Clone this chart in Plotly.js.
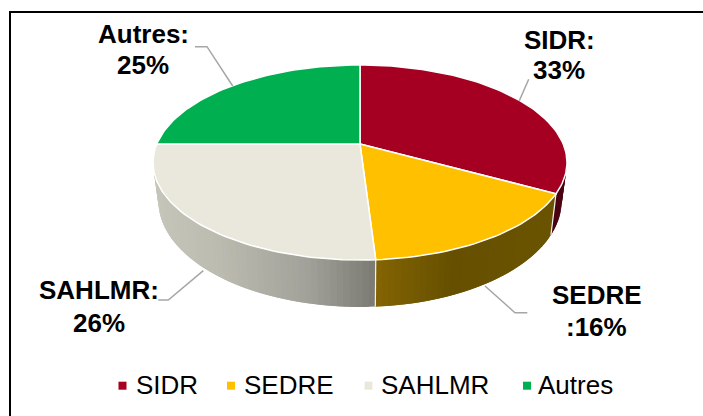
<!DOCTYPE html>
<html><head><meta charset="utf-8">
<script src="https://cdn.plot.ly/plotly-3.0.1.min.js"></script>
<style>html,body{margin:0;padding:0;background:#fff}#c{width:703px;height:416px}</style>
</head><body><div id="c"></div>
<script>
// Data
var categories = ['SIDR','SEDRE','SAHLMR','Autres'];
var values = [33,16,26,25];
var colors = ['#A50021','#FFC000','#EAE8DC','#00B050'];
var labelFirst = ['SIDR:','SEDRE','SAHLMR:','Autres:'];
var labelSecond = ['33%',':16%','26%','25%'];

// Styles / layout helpers
var FONT = '"Liberation Sans", Arial, sans-serif';
var sideStops = [
  [[0,'#4A0012'],[1,'#4A0012']],
  [[0,'#846403'],[0.42,'#665000'],[1,'#6A5300']],
  [[0,'#C6C5BA'],[0.27,'#BDBCB1'],[0.7,'#A2A199'],[1,'#7A7A72']],
  [[0,'#000000'],[1,'#000000']]
];
var labelPos = [[559,40,70],[596.5,295,327],[99,290.3,322.5],[143,33.5,65]];
var leaders = [
  [[528.7,79.3],[519.3,100.7]],
  [[485,286],[515,312.7],[527.3,312.7]],
  [[203.3,270.7],[168.3,300],[158.3,300]],
  [[195,46.7],[207,46.7],[232.7,86]]
];
var legendMark = [122.5,231,368.5,527];
var legendText = [134.3,242.3,379,535.7];

// Perspective projection of the pie's top and bottom discs
var C = 0.1897;
function proj(deg, D, A, B){
  var r = deg*Math.PI/180, u = Math.sin(r), v = Math.cos(r), w = 1 + C*v;
  return [360 + D*u/w, (A + B*v)/w];
}
function top_(deg){ return proj(deg,203.2,144,-66.67); }
function bot_(deg){ return proj(deg,198,180.7,-68); }

function hex(c){ return [1,3,5].map(function(i){return parseInt(c.substr(i,2),16);}); }
function stopColor(stops,f){
  for(var i=1;i<stops.length;i++){
    if(f<=stops[i][0]){
      var a=stops[i-1],b=stops[i],t=(f-a[0])/((b[0]-a[0])||1);
      var p=hex(a[1]),q=hex(b[1]);
      return 'rgb('+p.map(function(x,k){return Math.round(x+(q[k]-x)*t);}).join(',')+')';
    }
  }
  return stops[stops.length-1][1];
}

var total = values.reduce(function(a,b){return a+b;},0);
var traces = [], starts = [], acc = 0;
values.forEach(function(v){ starts.push(acc/total*360); acc += v; });
starts.push(360);

// Sides: painted strip by strip, each overlapping the next so no seams show
var VIS_A = 98, VIS_B = 262;
categories.forEach(function(name,i){
  var a0 = Math.max(starts[i],VIS_A), a1 = Math.min(starts[i+1],VIS_B);
  if(a1 <= a0) return;
  var n = Math.max(4,Math.round((a1-a0)/1.5));
  var xA = top_(a0)[0], xB = top_(a1)[0], xMin = Math.min(xA,xB), xMax = Math.max(xA,xB);
  for(var k=0;k<n;k++){
    var d0 = a0+(a1-a0)*k/n, d1 = a0+(a1-a0)*Math.min(n,k+2)/n, dm = a0+(a1-a0)*(k+1)/n;
    var p0=top_(d0),pm=top_(dm),p1=top_(d1),q1=bot_(d1),qm=bot_(dm),q0=bot_(d0);
    var f = ((p0[0]+pm[0])/2-xMin)/((xMax-xMin)||1);
    var col = stopColor(sideStops[i],f);
    traces.push({type:'scatter',mode:'lines',x:[p0[0],pm[0],p1[0],q1[0],qm[0],q0[0],p0[0]],y:[p0[1],pm[1],p1[1],q1[1],qm[1],q0[1],p0[1]],
      fill:'toself',fillcolor:col,line:{width:0},hoverinfo:'skip',showlegend:false});
  }
});
// Seams on the side wall between slices
[starts[1],starts[2]].forEach(function(a){
  var p=top_(a),q=bot_(a);
  traces.push({type:'scatter',mode:'lines',x:[p[0],q[0]],y:[p[1],q[1]],line:{color:'#F2F2EC',width:1.2},hoverinfo:'skip',showlegend:false});
});
// Top faces
categories.forEach(function(name,i){
  var xs=[360],ys=[144],n=Math.max(8,Math.round((starts[i+1]-starts[i])/1.5));
  for(var k=0;k<=n;k++){
    var p=top_(starts[i]+(starts[i+1]-starts[i])*k/n);
    xs.push(p[0]);ys.push(p[1]);
  }
  xs.push(360);ys.push(144);
  traces.push({type:'scatter',mode:'lines',x:xs,y:ys,fill:'toself',fillcolor:colors[i],
    line:{color:'#FFFFFF',width:1.5},name:name,hoverinfo:'name',showlegend:false});
});
// Leader lines
leaders.forEach(function(l){
  traces.push({type:'scatter',mode:'lines',x:l.map(function(p){return p[0];}),y:l.map(function(p){return p[1];}),
    line:{color:'#A6A6A6',width:1.5},hoverinfo:'skip',showlegend:false});
});
// Legend keys
traces.push({type:'scatter',mode:'markers',x:legendMark,y:legendMark.map(function(){return 385.7;}),
  marker:{symbol:'square',size:8,color:colors},hoverinfo:'skip',showlegend:false});

var annotations = [];
categories.forEach(function(name,i){
  [[labelFirst[i],labelPos[i][1]],[labelSecond[i],labelPos[i][2]]].forEach(function(t){
    annotations.push({x:labelPos[i][0],y:t[1],text:'<b>'+t[0]+'</b>',showarrow:false,xanchor:'center',yanchor:'middle',
      font:{family:FONT,size:26,color:'#000'}});
  });
  annotations.push({x:legendText[i],y:385,text:name,showarrow:false,xanchor:'left',yanchor:'middle',
    font:{family:FONT,size:26,color:'#000'}});
});

var layout = {
  width:703,height:416,margin:{l:0,r:0,t:0,b:0},paper_bgcolor:'#fff',plot_bgcolor:'#fff',showlegend:false,
  xaxis:{range:[0,703],visible:false,fixedrange:true},
  yaxis:{range:[416,0],visible:false,fixedrange:true},
  annotations:annotations,
  shapes:[{type:'path',xref:'x',yref:'y',path:'M10,416 L10,12 L703,12',line:{color:'#000',width:2}}]
};
Plotly.newPlot('c',traces,layout,{displayModeBar:false,staticPlot:true});
</script></body></html>
